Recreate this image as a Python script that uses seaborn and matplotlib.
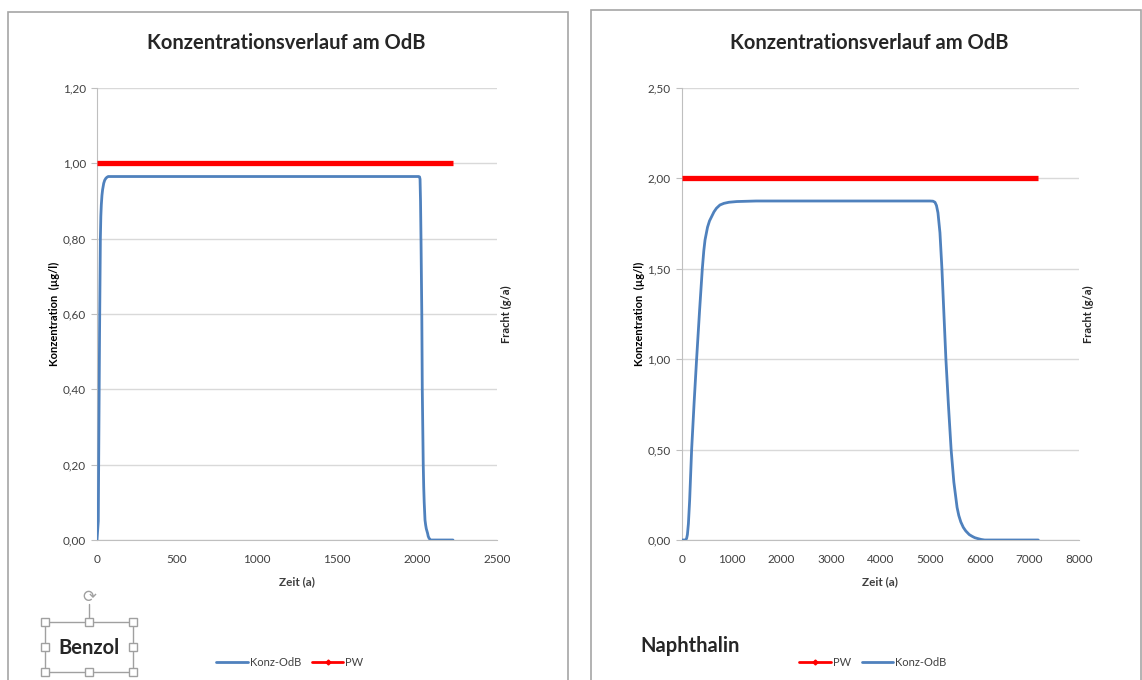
import matplotlib
matplotlib.use("Agg")
import matplotlib.pyplot as plt
from matplotlib.lines import Line2D
from matplotlib.patches import Rectangle
from matplotlib.ticker import FuncFormatter, MultipleLocator
import seaborn as sns

# Benzol: concentration at OdB and PW (Prüfwert)
benzol_zeit = [0, 8, 12, 16, 21, 24, 27, 31, 35, 42, 48, 55, 62, 70, 500, 1000, 1500, 2010,
               2016, 2019, 2022, 2025, 2030, 2033, 2039, 2042, 2045, 2050, 2054, 2058, 2066,
               2070, 2075, 2085, 2225]
benzol_konz = [0, 0.05, 0.30, 0.55, 0.80, 0.86, 0.89, 0.915, 0.93, 0.947, 0.955, 0.96, 0.963,
               0.965, 0.965, 0.965, 0.965, 0.965,
               0.964, 0.958, 0.90, 0.80, 0.60, 0.40, 0.20, 0.14, 0.10, 0.053, 0.04, 0.03, 0.018,
               0.01, 0.005, 0.0, 0.0]
benzol_pw_zeit = [0, 2225]
benzol_pw = [1.0, 1.0]

# Naphthalin
naph_zeit = [0, 80, 100, 115, 135, 160, 200, 250, 300, 360, 415, 445, 470, 520, 560, 605, 650,
             700, 770, 850, 950, 1110, 1500, 3000, 5000, 5060, 5100, 5130, 5160, 5200, 5240,
             5280, 5320, 5370, 5425, 5480, 5545, 5580, 5620, 5670, 5720, 5790, 5850, 5900,
             5960, 6030, 6100, 7180]
naph_konz = [0, 0, 0.01, 0.03, 0.09, 0.22, 0.50, 0.76, 1.00, 1.27, 1.50, 1.60, 1.66, 1.73, 1.765,
             1.79, 1.815, 1.835, 1.853, 1.862, 1.868, 1.872, 1.875, 1.875, 1.875, 1.874, 1.868,
             1.85, 1.81, 1.70, 1.50, 1.25, 1.00, 0.75, 0.50, 0.32, 0.18, 0.135, 0.10, 0.07, 0.05,
             0.03, 0.02, 0.013, 0.008, 0.003, 0.0, 0.0]
naph_pw_zeit = [0, 7180]
naph_pw = [2.0, 2.0]

blue = "#4F81BD"
red = "#FF0000"
grid = "#D9D9D9"
txt = "#404040"

sns.set_style("white")
plt.rcParams["font.family"] = ["Lato", "DejaVu Sans"]

W, H = 1142, 680
fig = plt.figure(figsize=(W / 100, H / 100), dpi=100)


def px(x0, y0, x1, y1):
    return [x0 / W, 1 - y1 / H, (x1 - x0) / W, (y1 - y0) / H]


comma = FuncFormatter(lambda v, p: f"{v:.2f}".replace(".", ","))


def panel(rect, zeit, konz, pw_zeit, pw, xmax, xstep, ymax, ystep, order):
    ax = fig.add_axes(rect)
    sns.lineplot(x=zeit, y=konz, ax=ax, color=blue, lw=2.0, zorder=3)
    sns.lineplot(x=pw_zeit, y=pw, ax=ax, color=red, lw=3.8, zorder=4,
                 solid_capstyle="butt")
    ax.set_xlim(0, xmax)
    ax.set_ylim(0, ymax)
    ax.xaxis.set_major_locator(MultipleLocator(xstep))
    ax.yaxis.set_major_locator(MultipleLocator(ystep))
    ax.yaxis.set_major_formatter(comma)
    ax.grid(axis="y", color=grid, lw=1)
    ax.set_axisbelow(True)
    for s in ["top", "right"]:
        ax.spines[s].set_visible(False)
    for s in ["left", "bottom"]:
        ax.spines[s].set_color("#BFBFBF")
    ax.tick_params(axis="both", direction="out", length=4, color="#BFBFBF",
                   labelsize=8.5, labelcolor=txt, pad=4)
    ax.tick_params(axis="x", pad=6)
    ax.set_xlabel("Zeit (a)", fontsize=8.5, fontweight="bold", color=txt, labelpad=8)
    ax.set_ylabel("Konzentration  (µg/l)", fontsize=8, fontweight="bold", color="#000000",
                  labelpad=2)
    ax.set_title("Konzentrationsverlauf am OdB", fontsize=14.5, fontweight="bold", pad=28,
                 x=0.473)
    ax2 = ax.twinx()
    ax2.set_yticks([])
    for s in ax2.spines.values():
        s.set_visible(False)
    ax2.set_ylabel("Fracht (g/a)", fontsize=8, fontweight="bold", labelpad=3)
    handles = {
        "Konz-OdB": Line2D([], [], color=blue, lw=2.0),
        "PW": Line2D([], [], color=red, lw=2.0, marker="D", markersize=2.5),
    }
    return ax, [handles[k] for k in order]


ax1, h1 = panel(px(97, 88, 497, 540), benzol_zeit, benzol_konz, benzol_pw_zeit, benzol_pw,
                2500, 500, 1.2, 0.2, ["Konz-OdB", "PW"])
ax2, h2 = panel(px(681.7, 88, 1079, 540), naph_zeit, naph_konz, naph_pw_zeit, naph_pw,
                8000, 1000, 2.5, 0.5, ["PW", "Konz-OdB"])

fig.legend(h1, ["Konz-OdB", "PW"], loc="center", bbox_to_anchor=(290 / W, 1 - 662 / H),
           ncol=2, frameon=False, fontsize=8, handlelength=2.8, columnspacing=1.0,
           handletextpad=0.2, labelcolor=txt)
fig.legend(h2, ["PW", "Konz-OdB"], loc="center", bbox_to_anchor=(873 / W, 1 - 662 / H),
           ncol=2, frameon=False, fontsize=8, handlelength=2.8, columnspacing=1.0,
           handletextpad=0.2, labelcolor=txt)

# panel borders
for x0, y0, x1, y1 in [(8, 12, 568, 700), (591, 10, 1141, 700)]:
    fig.patches.append(Rectangle((x0 / W, 1 - y1 / H), (x1 - x0) / W, (y1 - y0) / H,
                                 transform=fig.transFigure, fill=False,
                                 edgecolor="#A6A6A6", lw=1.2))

# selected text box "Benzol"
bx0, by0, bx1, by1 = 45, 622, 133, 672
fig.patches.append(Rectangle((bx0 / W, 1 - by1 / H), (bx1 - bx0) / W, (by1 - by0) / H,
                             transform=fig.transFigure, fill=False, edgecolor="#A0A0A0", lw=1))
fig.lines.append(Line2D([89 / W, 89 / W], [1 - 622 / H, 1 - 604 / H],
                        transform=fig.transFigure, color="#A0A0A0", lw=1))
for hx in [bx0, (bx0 + bx1) / 2, bx1]:
    for hy in [by0, (by0 + by1) / 2, by1]:
        if hx == (bx0 + bx1) / 2 and hy == (by0 + by1) / 2:
            continue
        fig.patches.append(Rectangle(((hx - 4) / W, 1 - (hy + 4) / H), 8 / W, 8 / H,
                                     transform=fig.transFigure, facecolor="white",
                                     edgecolor="#A0A0A0", lw=1, zorder=5))
fig.text(89 / W, 1 - 597 / H, "⟳", ha="center", va="center", fontsize=12, color="#A0A0A0",
         family=["DejaVu Sans"])
fig.text(89 / W, 1 - 648 / H, "Benzol", ha="center", va="center", fontsize=14.5,
         fontweight="bold")
fig.text(640 / W, 1 - 646 / H, "Naphthalin", ha="left", va="center", fontsize=14.5,
         fontweight="bold")

fig.savefig("out.png", dpi=100)
